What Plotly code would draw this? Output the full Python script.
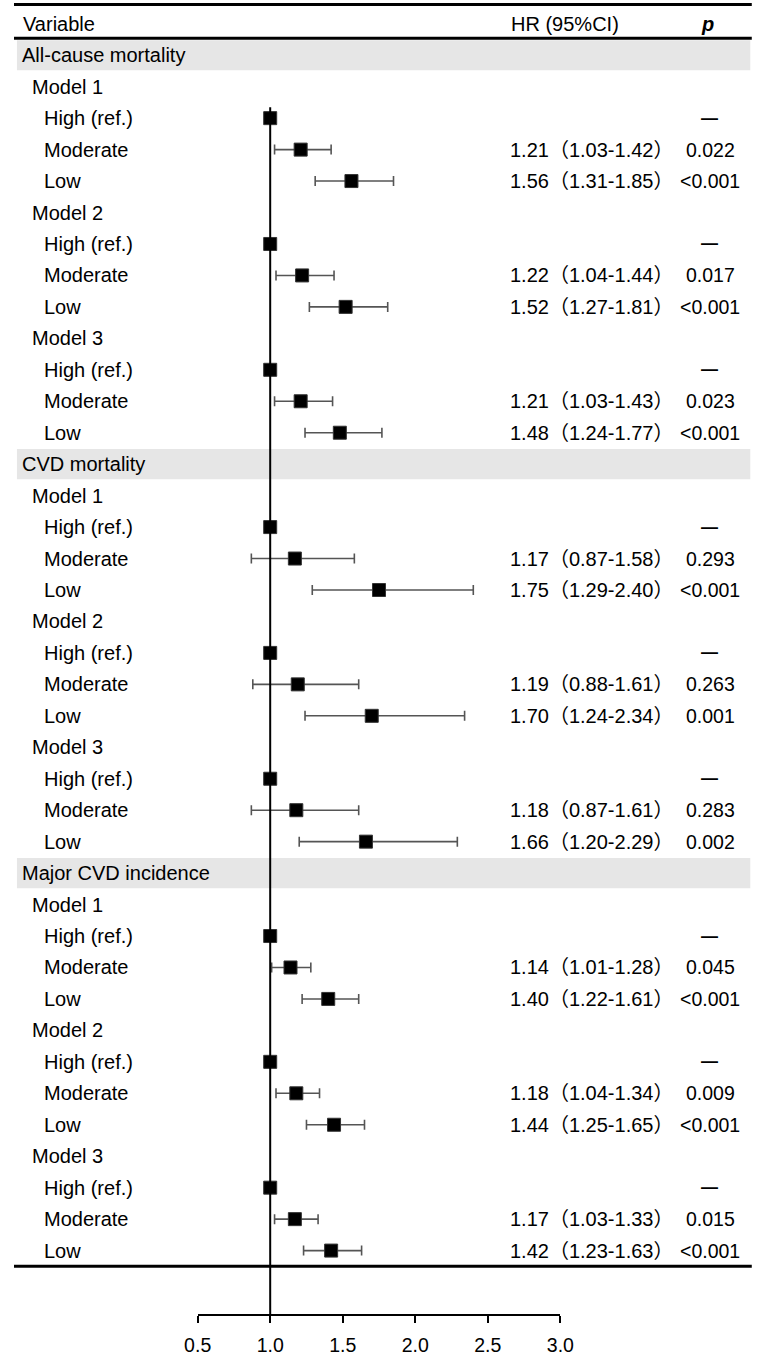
import plotly.graph_objects as go

# ---------------- data ----------------
sections = ["All-cause mortality", "CVD mortality", "Major CVD incidence"]
models = ["Model 1", "Model 2", "Model 3"]
levels = ["High (ref.)", "Moderate", "Low"]

hr_moderate = [1.21, 1.22, 1.21, 1.17, 1.19, 1.18, 1.14, 1.18, 1.17]
lo_moderate = [1.03, 1.04, 1.03, 0.87, 0.88, 0.87, 1.01, 1.04, 1.03]
hi_moderate = [1.42, 1.44, 1.43, 1.58, 1.61, 1.61, 1.28, 1.34, 1.33]
p_moderate = ["0.022", "0.017", "0.023", "0.293", "0.263", "0.283", "0.045", "0.009", "0.015"]

hr_low = [1.56, 1.52, 1.48, 1.75, 1.70, 1.66, 1.40, 1.44, 1.42]
lo_low = [1.31, 1.27, 1.24, 1.29, 1.24, 1.20, 1.22, 1.25, 1.23]
hi_low = [1.85, 1.81, 1.77, 2.40, 2.34, 2.29, 1.61, 1.65, 1.63]
p_low = ["<0.001", "<0.001", "<0.001", "<0.001", "0.001", "0.002", "<0.001", "<0.001", "<0.001"]

ref_hr = 1.0
x_ticks = [0.5, 1.0, 1.5, 2.0, 2.5, 3.0]
x_tick_labels = ["0.5", "1.0", "1.5", "2.0", "2.5", "3.0"]

# ---------------- layout constants ----------------
FONT = "Liberation Sans, Arial, Noto Sans CJK SC, sans-serif"
FS = 20
Y_TOP = -1.756
Y_BOT = 40.016

fig = go.Figure()
shapes = []
annotations = []

def txt(x, y, s, anchor="left", size=FS, **kw):
    annotations.append(dict(x=x, y=y, xref="paper", yref="y", text=s, showarrow=False,
                            xanchor=anchor, yanchor="middle", borderpad=0,
                            font=dict(family=FONT, size=size, color="black"), **kw))

# header
txt(0.0105, -1.0, "Variable")
txt(0.745, -1.0, "HR (95%CI)", anchor="center")
txt(0.9375, -1.0, "<b><i>p</i></b>", anchor="center")

xs, ys, ep, em = [], [], [], []
for s, sec in enumerate(sections):
    r = 13 * s
    shapes.append(dict(type="rect", xref="paper", yref="y", x0=0.004, x1=0.995,
                       y0=r - 0.48, y1=r + 0.48, fillcolor="#e6e6e6", line=dict(width=0),
                       layer="below"))
    txt(0.009, r + 0.0, sec)
    for m, mod in enumerate(models):
        k = 3 * s + m
        base = r + 1 + 4 * m
        txt(0.0235, base, mod)
        for j, lev in enumerate(levels):
            txt(0.039, base + 1 + j, lev)
        # ref row
        xs.append(ref_hr); ys.append(base + 1); ep.append(0); em.append(0)
        txt(0.940, base + 1, "<b>—</b>", anchor="center", size=17)
        # moderate
        xs.append(hr_moderate[k]); ys.append(base + 2)
        ep.append(hi_moderate[k] - hr_moderate[k]); em.append(hr_moderate[k] - lo_moderate[k])
        txt(0.669, base + 2, f"{hr_moderate[k]:.2f}（{lo_moderate[k]:.2f}-{hi_moderate[k]:.2f}）")
        txt(0.941, base + 2, p_moderate[k], anchor="center", size=19.5)
        # low
        xs.append(hr_low[k]); ys.append(base + 3)
        ep.append(hi_low[k] - hr_low[k]); em.append(hr_low[k] - lo_low[k])
        txt(0.669, base + 3, f"{hr_low[k]:.2f}（{lo_low[k]:.2f}-{hi_low[k]:.2f}）")
        txt(0.941, base + 3, p_low[k], anchor="center", size=19.5)

fig.add_trace(go.Scatter(
    x=xs, y=ys, mode="markers",
    marker=dict(symbol="square", size=13, color="black", line=dict(color="#333", width=1)),
    error_x=dict(type="data", symmetric=False, array=ep, arrayminus=em,
                 color="#555555", thickness=1.6, width=5),
    cliponaxis=False, showlegend=False, hoverinfo="skip"))

# reference line at HR = 1
shapes.append(dict(type="line", xref="x", yref="y", x0=ref_hr, x1=ref_hr, y0=1.65, y1=Y_BOT,
                   line=dict(color="black", width=2)))
# table rules
shapes.append(dict(type="line", xref="paper", yref="y", x0=0, x1=0.997, y0=-1.614, y1=-1.614,
                   line=dict(color="black", width=3)))
shapes.append(dict(type="line", xref="paper", yref="y", x0=0, x1=0.997, y0=-0.538, y1=-0.538,
                   line=dict(color="black", width=3)))
shapes.append(dict(type="line", xref="paper", yref="y", x0=0, x1=0.997, y0=38.5, y1=38.5,
                   line=dict(color="black", width=3)))

fig.update_layout(
    autosize=True, height=1356,
    margin=dict(l=0, r=0, t=0, b=36),
    paper_bgcolor="white", plot_bgcolor="white",
    shapes=shapes, annotations=annotations,
    xaxis=dict(domain=[0.2482, 0.7383], range=[0.5, 3.0], showline=True, linecolor="black",
               linewidth=2, ticks="outside", ticklen=7, tickwidth=2, tickcolor="black",
               tickvals=x_ticks, ticktext=x_tick_labels, showgrid=False, zeroline=False,
               ticklabelstandoff=6,
               tickfont=dict(family=FONT, size=19.5, color="black"), anchor="y"),
    yaxis=dict(range=[Y_BOT, Y_TOP], visible=False, showgrid=False, zeroline=False),
)

post = (
    "document.documentElement.style.margin='0';document.body.style.margin='0';"
    "document.documentElement.style.overflow='hidden';document.body.style.overflow='hidden';"
    "var gd=document.getElementById('{plot_id}');"
    "Plotly.Plots.resize(gd);"
)

fig.write_html("out.html", default_width="100%", default_height="1356px",
               config={"displayModeBar": False, "responsive": True}, post_script=post)
